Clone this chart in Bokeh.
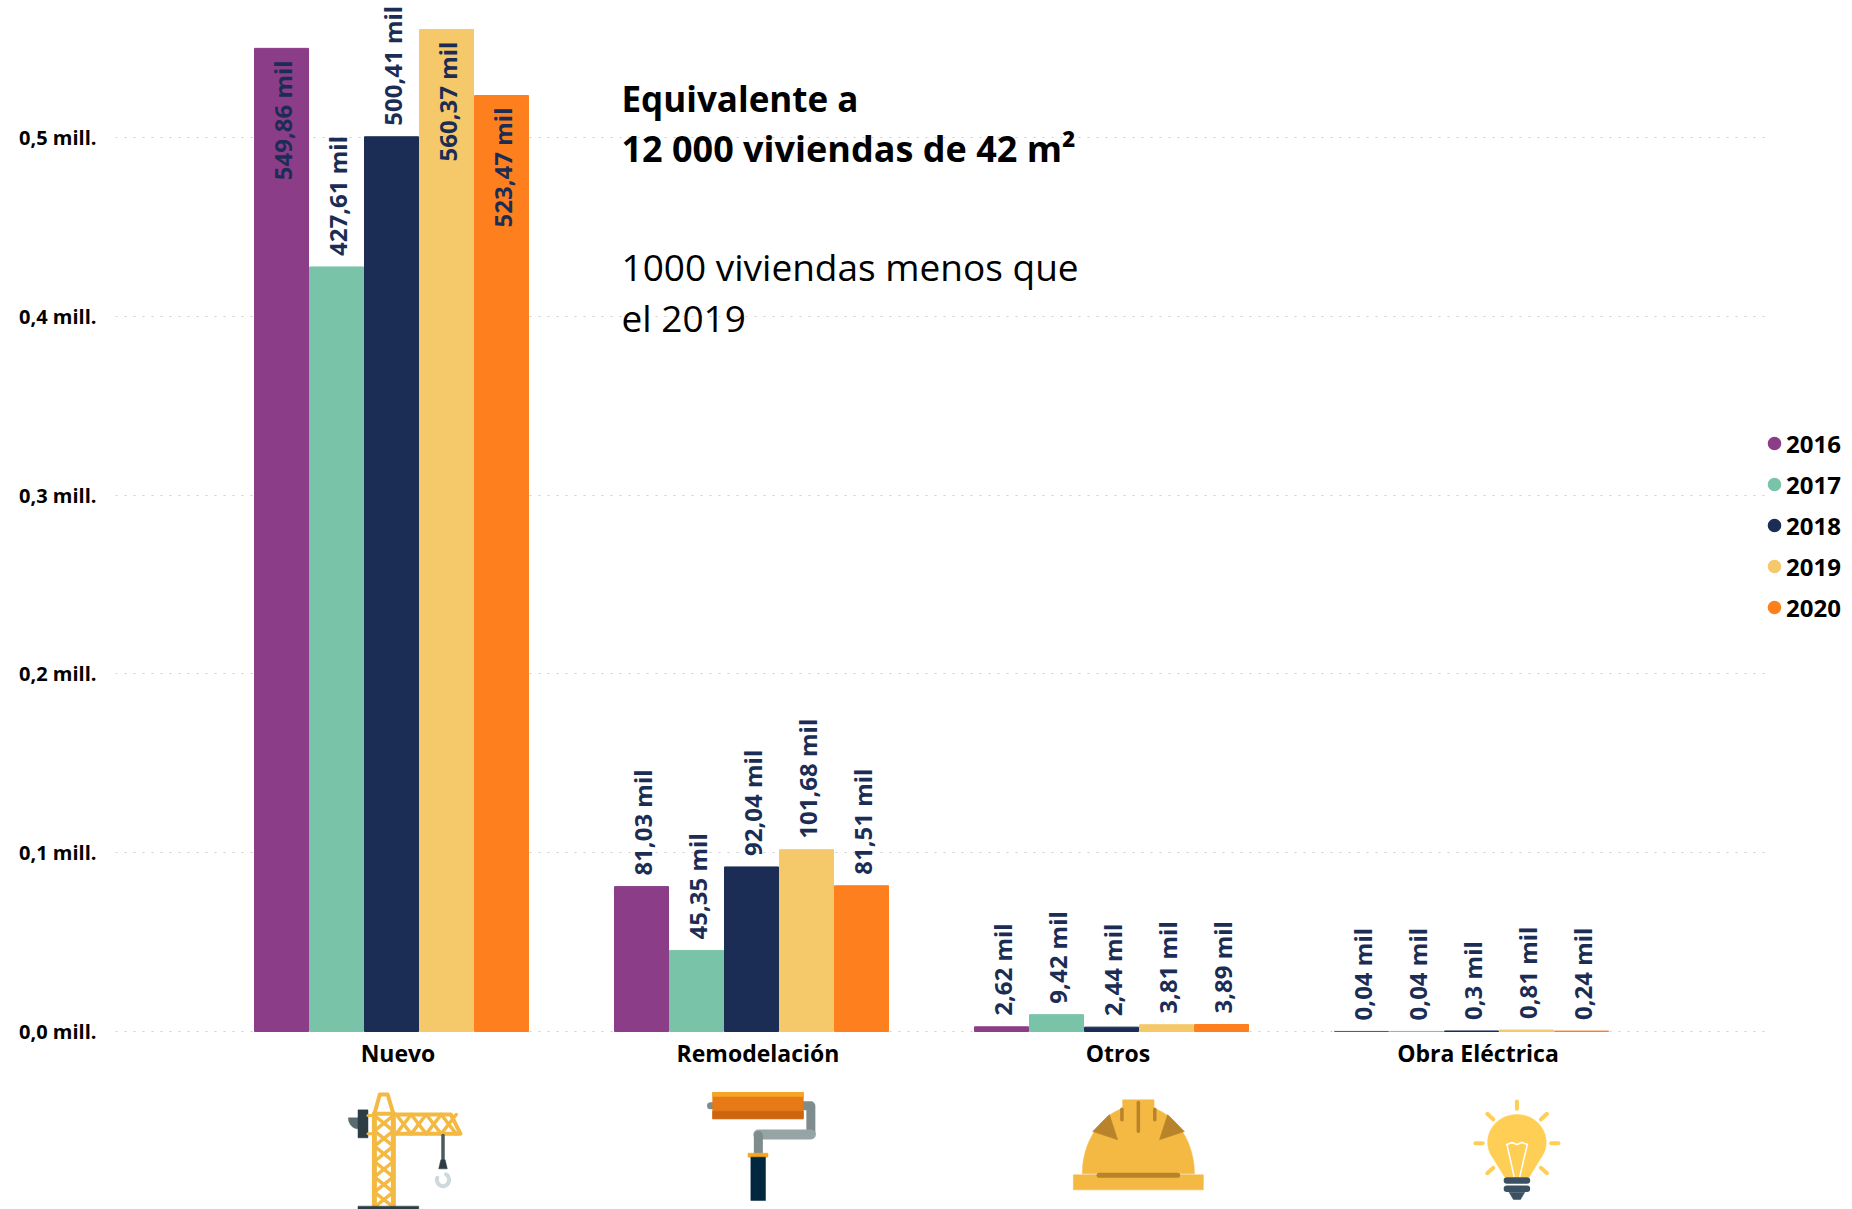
import math
import numpy as np
from bokeh.plotting import figure
from bokeh.embed import file_html
from bokeh.resources import INLINE
from bokeh.core.properties import value
from bokeh.models import Range1d, FixedTicker, Legend, LegendItem, ColumnDataSource

categories = ["Nuevo", "Remodelación", "Otros", "Obra Eléctrica"]
years = ["2016", "2017", "2018", "2019", "2020"]
v2016 = [549.86, 81.03, 2.62, 0.04]
v2017 = [427.61, 45.35, 9.42, 0.04]
v2018 = [500.41, 92.04, 2.44, 0.3]
v2019 = [560.37, 101.68, 3.81, 0.81]
v2020 = [523.47, 81.51, 3.89, 0.24]
labels2016 = ["549,86 mil", "81,03 mil", "2,62 mil", "0,04 mil"]
labels2017 = ["427,61 mil", "45,35 mil", "9,42 mil", "0,04 mil"]
labels2018 = ["500,41 mil", "92,04 mil", "2,44 mil", "0,3 mil"]
labels2019 = ["560,37 mil", "101,68 mil", "3,81 mil", "0,81 mil"]
labels2020 = ["523,47 mil", "81,51 mil", "3,89 mil", "0,24 mil"]
y_ticks = [0, 100, 200, 300, 400, 500]
y_tick_labels = ["0,0 mill.", "0,1 mill.", "0,2 mill.", "0,3 mill.", "0,4 mill.", "0,5 mill."]
colors = ["#8B3D88", "#79C4A8", "#1B2D55", "#F5C96A", "#FE7F1E"]
series = [v2016, v2017, v2018, v2019, v2020]
series_labels = [labels2016, labels2017, labels2018, labels2019, labels2020]

NAVY = "#1B2D55"
FONT = value("Open Sans")
F_L, F_R, F_T, F_B = 115, 1852, 0, 1209      # frame in page pixels
GRID_R = 1766
ZERO_PY = 1031
PX_PER_MIL = 1.788
PERIOD = 360.0
X0 = 397.5

x_range = Range1d((F_L - X0) / PERIOD, (F_R - X0) / PERIOD)
y_range = Range1d((ZERO_PY - F_B) / PX_PER_MIL, (ZERO_PY - F_T) / PX_PER_MIL)

p = figure(width=1852, height=1209, output_backend="svg", toolbar_location=None,
           x_range=x_range, y_range=y_range,
           frame_width=F_R - F_L, frame_height=F_B - F_T,
           min_border_left=F_L, min_border_right=0,
           min_border_top=0, min_border_bottom=0, outline_line_color=None)
p.extra_x_ranges["px"] = Range1d(F_L, F_R)
p.extra_y_ranges["py"] = Range1d(F_B, F_T)

# axes
p.xaxis.fixed_location = 0
p.xaxis.ticker = FixedTicker(ticks=list(range(len(categories))))
p.xaxis.major_label_overrides = {i: c for i, c in enumerate(categories)}
p.yaxis.ticker = FixedTicker(ticks=y_ticks)
p.yaxis.major_label_overrides = dict(zip(y_ticks, y_tick_labels))
for ax in (p.xaxis, p.yaxis):
    ax.axis_line_color = None
    ax.major_tick_line_color = None
    ax.minor_tick_line_color = None
    ax.major_label_text_font = "Open Sans"
    ax.major_label_text_font_style = "bold"
    ax.major_label_text_color = "#000000"
p.xaxis.major_label_text_font_size = "23px"
p.yaxis.major_label_text_font_size = "20px"
p.xaxis.major_label_standoff = -1
p.yaxis.major_label_standoff = 13
p.xgrid.visible = False
p.ygrid.ticker = FixedTicker(ticks=y_ticks)
p.ygrid.cross_bounds = ((F_L - X0) / PERIOD, (GRID_R - X0) / PERIOD)
p.ygrid.grid_line_color = "#cfcfcf"
p.ygrid.grid_line_dash = "2 7"
p.ygrid.grid_line_width = 1

# bars and labels
BAR = 55.0 / PERIOD
SHIFT = -6.5 / PERIOD
idx = np.arange(len(categories))
for j, (vals, labs, col) in enumerate(zip(series, series_labels, colors)):
    xs = idx + SHIFT + (j - 2) * BAR
    p.vbar(x=xs, top=vals, bottom=0, width=BAR - 1 / PERIOD, fill_color=col,
           line_color=col, line_width=1)
    inside = [v > 510 for v in vals]
    out_s = ColumnDataSource(dict(x=[a for a, b in zip(xs, inside) if not b],
                                  y=[a for a, b in zip(vals, inside) if not b],
                                  t=[a for a, b in zip(labs, inside) if not b]))
    in_s = ColumnDataSource(dict(x=[a for a, b in zip(xs, inside) if b],
                                 y=[a for a, b in zip(vals, inside) if b],
                                 t=[a for a, b in zip(labs, inside) if b]))
    common = dict(text="t", angle=math.pi / 2, text_font=FONT, text_font_style="bold",
                  text_font_size="24px", text_color=NAVY, text_baseline="middle", x_offset=1)
    p.text(x="x", y="y", source=out_s, text_align="left", y_offset=-11, **common)
    p.text(x="x", y="y", source=in_s, text_align="right", y_offset=12, **common)

# legend
leg_r = [p.scatter(x=[float("nan")], y=[float("nan")], size=14, fill_color=c, line_color=c,
                   line_width=4)
         for c in colors]
legend = Legend(items=[LegendItem(label=y, renderers=[r], index=0) for y, r in zip(years, leg_r)],
                location=(1762 - F_L, F_B - 625), orientation="vertical",
                glyph_width=24, glyph_height=36, spacing=5, padding=0, margin=0,
                label_standoff=0, label_height=36,
                label_text_font="Open Sans", label_text_font_style="bold",
                label_text_font_size="24px", label_text_color="#000000",
                background_fill_alpha=0, border_line_color=None)
p.add_layout(legend, "center")

# annotation text
ann_x = [621, 621, 621, 621]
ann_y = [98, 148, 266, 317]
ann_t = ["Equivalente a", "12 000 viviendas de 42 m²", "1000 viviendas menos que", "el 2019"]
ann_s = ["bold", "bold", "normal", "normal"]
ann_z = ["35px", "36px", "37px", "37px"]
for x, y, t, s, z in zip(ann_x, ann_y, ann_t, ann_s, ann_z):
    p.text(x=[x], y=[y], text=[t], x_range_name="px", y_range_name="py", text_font=FONT,
           text_font_style=s, text_font_size=z, text_color="#000000",
           text_baseline="middle", text_align="left")

# ---- icons, drawn in page pixels ----
PXY = dict(x_range_name="px", y_range_name="py")
def Z2(pts):
    return [320 + a / 2.8 for a, _ in pts], [1000 + b / 3 for _, b in pts]
def Z3(pts):
    return [1050 + a / 2.8 for a, _ in pts], [1000 + b / 3 for _, b in pts]
def poly(Z, pts, c):
    xs, ys = Z(pts)
    p.patch(xs, ys, fill_color=c, line_color=c, line_width=0.5, **PXY)
def ln(Z, pts, c, w):
    xs, ys = Z(pts)
    p.line(xs, ys, line_color=c, line_width=w, line_cap="round", line_join="round", **PXY)
def box(Z, a, b, c, d, col):
    poly(Z, [(a, b), (c, b), (c, d), (a, d)], col)
def arc(cx, cy, rx, ry, a0, a1, n=30):
    return [(cx + rx * math.cos(math.radians(a0 + (a1 - a0) * k / n)),
             cy + ry * math.sin(math.radians(a0 + (a1 - a0) * k / n))) for k in range(n + 1)]

# crane
Y = "#F4B942"
poly(Z2, arc(105, 352, 27, 33, 90, 180) + [(105, 352)], "#5A6B70")
box(Z2, 105, 328, 133, 412, "#2E3D44")
ln(Z2, [(133, 345), (150, 345)], Y, 3)
ln(Z2, [(133, 400), (150, 400)], Y, 3)
for xx in (151, 204):
    ln(Z2, [(xx, 340), (xx, 620)], Y, 5)
ln(Z2, [(151, 340), (166, 282), (188, 282), (204, 340), (151, 340)], Y, 4)
for k in range(6):
    a, b = 345 + k * 46, 391 + k * 46
    ln(Z2, [(151, a), (204, min(b, 620))], Y, 3.5)
    ln(Z2, [(204, a), (151, min(b, 620))], Y, 3.5)
ln(Z2, [(204, 342), (365, 342), (392, 400), (204, 400)], Y, 4)
for a, b in [(212, 254), (254, 296), (296, 338), (338, 380)]:
    ln(Z2, [(a, 342), (b, 400)], Y, 3.5)
    ln(Z2, [(b, 342), (a, 400)], Y, 3.5)
ln(Z2, [(343, 405), (343, 480)], "#4A5B60", 3.5)
poly(Z2, [(331, 505), (337, 478), (349, 478), (355, 505)], "#2E3D44")
ln(Z2, arc(343, 538, 17, 19, -60, 200), "#CFD8DC", 4)
box(Z2, 105, 617, 275, 627, "#2E3D44")

# roller
ln(Z2, [(1092, 316), (1100, 316)], "#7F8C8D", 7)
ln(Z2, [(1352, 316), (1373, 316), (1373, 400)], "#7F8C8D", 9)
ln(Z2, [(1373, 402), (1226, 402)], "#95A5A6", 10)
ln(Z2, [(1226, 405), (1226, 458)], "#7F8C8D", 9)
box(Z2, 1098, 276, 1352, 355, "#E77A17")
box(Z2, 1098, 276, 1352, 288, "#F5A623")
box(Z2, 1098, 332, 1352, 355, "#CC6410")
box(Z2, 1197, 458, 1253, 470, "#F5A623")
box(Z2, 1205, 470, 1246, 600, "#01273F")

# helmet
dome = arc(246, 520, 157, 205, 180, 360, 40)
poly(Z3, dome, Y)
box(Z3, 202, 298, 290, 345, Y)
box(Z3, 64, 523, 428, 568, Y)
D = "#B8832A"
ln(Z3, [(246, 306), (246, 392)], D, 3.5)
ln(Z3, [(200, 326), (200, 358)], D, 3.5)
ln(Z3, [(292, 326), (292, 358)], D, 3.5)
poly(Z3, [(118, 393), (165, 342), (188, 418)], D)
poly(Z3, [(375, 393), (328, 342), (305, 418)], D)
ln(Z3, [(136, 524), (356, 524)], D, 5)

# bulb
B = "#FFCE54"
poly(Z3, arc(1306, 425, 82, 83, 145, 395, 40) + [(1340, 530), (1272, 530)], B)
for a, b, c, d in [(1306, 303, 1306, 325), (1223, 340, 1240, 357), (1390, 340, 1373, 357),
                   (1190, 428, 1210, 428), (1402, 428, 1422, 428), (1223, 518, 1240, 502),
                   (1390, 518, 1373, 502)]:
    ln(Z3, [(a, b), (c, d)], B, 4)
ln(Z3, [(1278, 432), (1292, 426), (1306, 432), (1320, 426), (1335, 432)], "#FFFFFF", 1.5)
ln(Z3, [(1278, 432), (1298, 528)], "#FFFFFF", 1.5)
ln(Z3, [(1335, 432), (1314, 528)], "#FFFFFF", 1.5)
for yy in (540, 565):
    ln(Z3, [(1278, yy), (1334, yy)], "#3B5063", 6.5)
poly(Z3, [(1284, 575), (1328, 575), (1316, 597), (1296, 597)], "#3B5063")

open("out.html", "w").write(file_html(p, INLINE))
